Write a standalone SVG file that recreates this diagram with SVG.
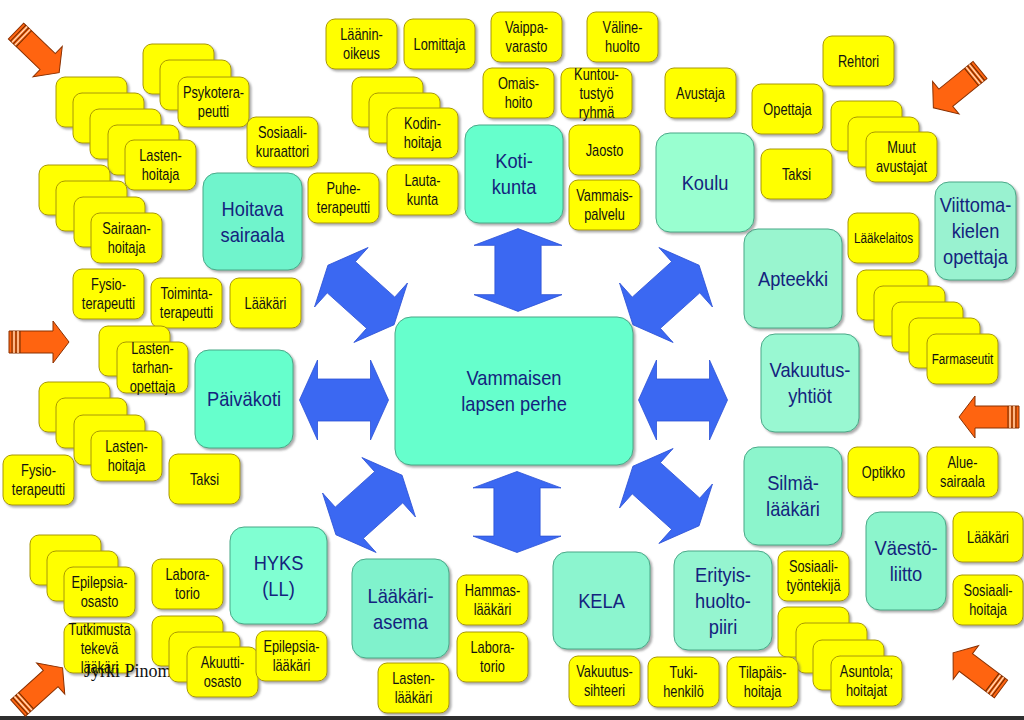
<svg xmlns="http://www.w3.org/2000/svg" xmlns:xlink="http://www.w3.org/1999/xlink" width="1024" height="720" viewBox="0 0 1024 720">
<defs>
<filter id="sh" x="-15%" y="-15%" width="140%" height="140%"><feDropShadow dx="2" dy="2" stdDeviation="1.2" flood-color="#666" flood-opacity="0.55"/></filter>
<polygon id="ba" points="-44.5,0 -26.5,-40 -26.5,-21 26.5,-21 26.5,-40 44.5,0 26.5,40 26.5,21 -26.5,21 -26.5,40"/>
<g id="oa">
<polygon points="0,-11 44,-11 44,-21 60,0 44,21 44,11 0,11" fill="#FF6410" stroke="#8a3000" stroke-width="1"/>
<line x1="3" y1="-11" x2="3" y2="11" stroke="#6a2a00" stroke-width="1"/>
<line x1="5" y1="-11" x2="5" y2="11" stroke="#ffe0c0" stroke-width="1.3"/>
<line x1="7" y1="-11" x2="7" y2="11" stroke="#6a2a00" stroke-width="1"/>
<line x1="9" y1="-11" x2="9" y2="11" stroke="#ffe0c0" stroke-width="1.3"/>
<line x1="11" y1="-11" x2="11" y2="11" stroke="#6a2a00" stroke-width="1"/>
</g>
</defs>
<style>
.y{fill:#FFFF00;stroke:#a89800;stroke-width:1;filter:url(#sh)}
.t{fill:#66FFCC;stroke:#4aa888;stroke-width:1;filter:url(#sh)}
.yt{font-family:"Liberation Sans",Arial,sans-serif;font-size:16px;fill:#111;text-anchor:middle}
.tt{font-family:"Liberation Sans",Arial,sans-serif;font-size:21px;fill:#14237e;text-anchor:middle}
.ba{fill:#3b68f2;stroke:#2c52d6;stroke-width:0.8}
</style>
<rect width="1024" height="720" fill="#fff"/>
<rect x="0" y="716" width="1024" height="4" fill="#2e2e2e"/>

<g id="connectors">
<use xlink:href="#ba" class="ba" transform="translate(518,270) rotate(90) scale(0.93 1.1)"/>
<use xlink:href="#ba" class="ba" transform="translate(517,512) rotate(90) scale(0.91 1.1)"/>
<use xlink:href="#ba" class="ba" transform="translate(344,400)"/>
<use xlink:href="#ba" class="ba" transform="translate(683,400)"/>
<use xlink:href="#ba" class="ba" transform="translate(361,295) rotate(42)"/>
<use xlink:href="#ba" class="ba" transform="translate(666,295) rotate(-42)"/>
<use xlink:href="#ba" class="ba" transform="translate(369,505) rotate(-42)"/>
<use xlink:href="#ba" class="ba" transform="translate(666,496) rotate(42)"/>
</g>

<g id="pointers">
<use xlink:href="#oa" transform="translate(16,31) rotate(44)"/>
<use xlink:href="#oa" transform="translate(9,342)"/>
<use xlink:href="#oa" transform="translate(18,708) rotate(-42)"/>
<use xlink:href="#oa" transform="translate(980,70) rotate(141)"/>
<use xlink:href="#oa" transform="translate(1019,417) rotate(180)"/>
<use xlink:href="#oa" transform="translate(1001,689) rotate(-143)"/>
</g>

<!-- teal nodes -->
<g id="n-perhe"><rect class="t" x="395" y="317" width="238" height="148" rx="16"/>
<text class="tt" transform="translate(514 385.3) scale(0.87 1)"><tspan x="0">Vammaisen</tspan><tspan x="0" dy="26">lapsen perhe</tspan></text></g>
<g id="n-hoitava"><rect class="t" x="203" y="173" width="99" height="97" rx="14" style="fill:#6ff4cc"/>
<text class="tt" transform="translate(252.5 215.8) scale(0.87 1)"><tspan x="0">Hoitava</tspan><tspan x="0" dy="26">sairaala</tspan></text></g>
<g id="n-paivakoti"><rect class="t" x="195" y="350" width="98" height="98" rx="14"/>
<text class="tt" transform="translate(244 406.3) scale(0.87 1)">Päiväkoti</text></g>
<g id="n-hyks"><rect class="t" x="230" y="527" width="97" height="97" rx="14" style="fill:#80ffd2"/>
<text class="tt" transform="translate(278.5 569.8) scale(0.87 1)"><tspan x="0">HYKS</tspan><tspan x="0" dy="26">(LL)</tspan></text></g>
<g id="n-laakariasema"><rect class="t" x="352" y="559" width="97" height="99" rx="14" style="fill:#80f2cc"/>
<text class="tt" transform="translate(400.5 602.8) scale(0.87 1)"><tspan x="0">Lääkäri-</tspan><tspan x="0" dy="26">asema</tspan></text></g>
<g id="n-kela"><rect class="t" x="553" y="552" width="97" height="97" rx="14" style="fill:#8cf5cf"/>
<text class="tt" transform="translate(601.5 607.8) scale(0.87 1)">KELA</text></g>
<g id="n-erityis"><rect class="t" x="674" y="551" width="98" height="99" rx="14" style="fill:#95f5d0"/>
<text class="tt" transform="translate(723 581.8) scale(0.87 1)"><tspan x="0">Erityis-</tspan><tspan x="0" dy="26">huolto-</tspan><tspan x="0" dy="26">piiri</tspan></text></g>
<g id="n-silma"><rect class="t" x="744" y="447" width="98" height="98" rx="14" style="fill:#8cf5cc"/>
<text class="tt" transform="translate(793 490.3) scale(0.87 1)"><tspan x="0">Silmä-</tspan><tspan x="0" dy="26">lääkäri</tspan></text></g>
<g id="n-vaesto"><rect class="t" x="866" y="512" width="80" height="98" rx="14" style="fill:#8cf5cc"/>
<text class="tt" transform="translate(906 555.3) scale(0.87 1)"><tspan x="0">Väestö-</tspan><tspan x="0" dy="26">liitto</tspan></text></g>
<g id="n-vakuutus"><rect class="t" x="761" y="334" width="98" height="98" rx="14" style="fill:#99f8d2"/>
<text class="tt" transform="translate(810 377.3) scale(0.87 1)"><tspan x="0">Vakuutus-</tspan><tspan x="0" dy="26">yhtiöt</tspan></text></g>
<g id="n-apteekki"><rect class="t" x="744" y="229" width="98" height="99" rx="14" style="fill:#99f5cf"/>
<text class="tt" transform="translate(793 285.8) scale(0.87 1)">Apteekki</text></g>
<g id="n-koulu"><rect class="t" x="656" y="133" width="98" height="99" rx="14" style="fill:#99ffd0"/>
<text class="tt" transform="translate(705 189.8) scale(0.87 1)">Koulu</text></g>
<g id="n-viittoma"><rect class="t" x="935" y="182" width="81" height="98" rx="14" style="fill:#99f2d0"/>
<text class="tt" transform="translate(975.5 212.3) scale(0.87 1)"><tspan x="0">Viittoma-</tspan><tspan x="0" dy="26">kielen</tspan><tspan x="0" dy="26">opettaja</tspan></text></g>
<g id="n-kotikunta"><rect class="t" x="465" y="125" width="98" height="98" rx="14"/>
<text class="tt" transform="translate(514 168.3) scale(0.87 1)"><tspan x="0">Koti-</tspan><tspan x="0" dy="26">kunta</tspan></text></g>

<!-- yellow nodes -->
<g id="n-psyk"><rect class="y" x="143" y="44" width="71" height="50" rx="9"/><rect class="y" x="160" y="60" width="71" height="50" rx="9"/><rect class="y" x="178" y="77" width="71" height="50" rx="9"/>
<text class="yt" transform="translate(213.5 98.1) scale(0.8 1)"><tspan x="0">Psykotera-</tspan><tspan x="0" dy="19">peutti</tspan></text></g>
<g id="n-kuraattori"><rect class="y" x="247" y="117" width="71" height="50" rx="9"/>
<text class="yt" transform="translate(282.5 138.1) scale(0.8 1)"><tspan x="0">Sosiaali-</tspan><tspan x="0" dy="19">kuraattori</tspan></text></g>
<g id="n-lastenhoitaja1"><rect class="y" x="56" y="77" width="71" height="50" rx="9"/><rect class="y" x="73" y="93" width="71" height="50" rx="9"/><rect class="y" x="90" y="109" width="71" height="50" rx="9"/><rect class="y" x="108" y="125" width="71" height="50" rx="9"/><rect class="y" x="125" y="140" width="71" height="50" rx="9"/>
<text class="yt" transform="translate(160.5 161.1) scale(0.8 1)"><tspan x="0">Lasten-</tspan><tspan x="0" dy="19">hoitaja</tspan></text></g>
<g id="n-sairaanhoitaja"><rect class="y" x="39" y="165" width="71" height="50" rx="9"/><rect class="y" x="56" y="181" width="71" height="50" rx="9"/><rect class="y" x="74" y="197" width="71" height="50" rx="9"/><rect class="y" x="91" y="213" width="71" height="50" rx="9"/>
<text class="yt" transform="translate(126.5 234.1) scale(0.8 1)"><tspan x="0">Sairaan-</tspan><tspan x="0" dy="19">hoitaja</tspan></text></g>
<g id="n-fysio1"><rect class="y" x="73" y="269" width="71" height="50" rx="9"/>
<text class="yt" transform="translate(108.5 290.1) scale(0.8 1)"><tspan x="0">Fysio-</tspan><tspan x="0" dy="19">terapeutti</tspan></text></g>
<g id="n-toiminta"><rect class="y" x="151" y="278" width="71" height="50" rx="9"/>
<text class="yt" transform="translate(186.5 299.1) scale(0.8 1)"><tspan x="0">Toiminta-</tspan><tspan x="0" dy="19">terapeutti</tspan></text></g>
<g id="n-laakari1"><rect class="y" x="230" y="278" width="71" height="50" rx="9"/>
<text class="yt" transform="translate(265.5 308.6) scale(0.8 1)">Lääkäri</text></g>
<g id="n-lastentarhan"><rect class="y" x="99" y="326" width="71" height="50" rx="9"/><rect class="y" x="117" y="342" width="71" height="51" rx="9"/>
<text class="yt" transform="translate(152.5 353.6) scale(0.8 1)"><tspan x="0">Lasten-</tspan><tspan x="0" dy="19">tarhan-</tspan><tspan x="0" dy="19">opettaja</tspan></text></g>
<g id="n-lastenhoitaja2"><rect class="y" x="39" y="382" width="71" height="50" rx="9"/><rect class="y" x="56" y="398" width="71" height="50" rx="9"/><rect class="y" x="74" y="415" width="71" height="50" rx="9"/><rect class="y" x="91" y="431" width="71" height="50" rx="9"/>
<text class="yt" transform="translate(126.5 452.1) scale(0.8 1)"><tspan x="0">Lasten-</tspan><tspan x="0" dy="19">hoitaja</tspan></text></g>
<g id="n-fysio2"><rect class="y" x="3" y="455" width="71" height="50" rx="9"/>
<text class="yt" transform="translate(38.5 476.1) scale(0.8 1)"><tspan x="0">Fysio-</tspan><tspan x="0" dy="19">terapeutti</tspan></text></g>
<g id="n-taksi1"><rect class="y" x="169" y="454" width="71" height="50" rx="9"/>
<text class="yt" transform="translate(204.5 484.6) scale(0.8 1)">Taksi</text></g>
<g id="n-epilepsiaosasto"><rect class="y" x="30" y="535" width="71" height="50" rx="9"/><rect class="y" x="47" y="551" width="71" height="50" rx="9"/><rect class="y" x="64" y="567" width="71" height="50" rx="9"/>
<text class="yt" transform="translate(99.5 588.1) scale(0.8 1)"><tspan x="0">Epilepsia-</tspan><tspan x="0" dy="19">osasto</tspan></text></g>
<g id="n-tutkimusta"><rect class="y" x="64" y="623" width="71" height="50" rx="9"/>
<text class="yt" transform="translate(99.5 634.6) scale(0.8 1)"><tspan x="0">Tutkimusta</tspan><tspan x="0" dy="19">tekevä</tspan><tspan x="0" dy="19">lääkäri</tspan></text></g>
<g id="n-labora1"><rect class="y" x="152" y="559" width="71" height="50" rx="9"/>
<text class="yt" transform="translate(187.5 580.1) scale(0.8 1)"><tspan x="0">Labora-</tspan><tspan x="0" dy="19">torio</tspan></text></g>
<g id="n-akuutti"><rect class="y" x="152" y="616" width="71" height="50" rx="9"/>
<text x="84" y="677" font-family="'Liberation Serif','Times New Roman',serif" font-size="18" fill="#111">Jyrki Pinomaa</text>
<rect class="y" x="169" y="632" width="71" height="50" rx="9"/><rect class="y" x="187" y="647" width="71" height="50" rx="9"/>
<text class="yt" transform="translate(222.5 668.1) scale(0.8 1)"><tspan x="0">Akuutti-</tspan><tspan x="0" dy="19">osasto</tspan></text></g>
<g id="n-epilepsialaakari"><rect class="y" x="256" y="631" width="71" height="50" rx="9"/>
<text class="yt" transform="translate(291.5 652.1) scale(0.8 1)"><tspan x="0">Epilepsia-</tspan><tspan x="0" dy="19">lääkäri</tspan></text></g>
<g id="n-laanin"><rect class="y" x="326" y="19" width="71" height="50" rx="9"/>
<text class="yt" transform="translate(361.5 40.1) scale(0.8 1)"><tspan x="0">Läänin-</tspan><tspan x="0" dy="19">oikeus</tspan></text></g>
<g id="n-lomittaja"><rect class="y" x="404" y="19" width="71" height="50" rx="9"/>
<text class="yt" transform="translate(439.5 49.6) scale(0.8 1)">Lomittaja</text></g>
<g id="n-vaippa"><rect class="y" x="491" y="12" width="71" height="50" rx="9"/>
<text class="yt" transform="translate(526.5 33.1) scale(0.8 1)"><tspan x="0">Vaippa-</tspan><tspan x="0" dy="19">varasto</tspan></text></g>
<g id="n-valine"><rect class="y" x="587" y="12" width="71" height="50" rx="9"/>
<text class="yt" transform="translate(622.5 33.1) scale(0.8 1)"><tspan x="0">Väline-</tspan><tspan x="0" dy="19">huolto</tspan></text></g>
<g id="n-omais"><rect class="y" x="483" y="68" width="71" height="50" rx="9"/>
<text class="yt" transform="translate(518.5 89.1) scale(0.8 1)"><tspan x="0">Omais-</tspan><tspan x="0" dy="19">hoito</tspan></text></g>
<g id="n-kuntou"><rect class="y" x="561" y="68" width="71" height="50" rx="9"/>
<text class="yt" transform="translate(596.5 79.6) scale(0.8 1)"><tspan x="0">Kuntou-</tspan><tspan x="0" dy="19">tustyö</tspan><tspan x="0" dy="19">ryhmä</tspan></text></g>
<g id="n-avustaja"><rect class="y" x="665" y="68" width="71" height="50" rx="9"/>
<text class="yt" transform="translate(700.5 98.6) scale(0.8 1)">Avustaja</text></g>
<g id="n-kodin"><rect class="y" x="352" y="77" width="71" height="50" rx="9"/><rect class="y" x="369" y="93" width="71" height="50" rx="9"/><rect class="y" x="387" y="108" width="71" height="50" rx="9"/>
<text class="yt" transform="translate(422.5 129.1) scale(0.8 1)"><tspan x="0">Kodin-</tspan><tspan x="0" dy="19">hoitaja</tspan></text></g>
<g id="n-lauta"><rect class="y" x="387" y="165" width="71" height="50" rx="9"/>
<text class="yt" transform="translate(422.5 186.1) scale(0.8 1)"><tspan x="0">Lauta-</tspan><tspan x="0" dy="19">kunta</tspan></text></g>
<g id="n-puhe"><rect class="y" x="308" y="173" width="71" height="50" rx="9"/>
<text class="yt" transform="translate(343.5 194.1) scale(0.8 1)"><tspan x="0">Puhe-</tspan><tspan x="0" dy="19">terapeutti</tspan></text></g>
<g id="n-jaosto"><rect class="y" x="569" y="125" width="71" height="50" rx="9"/>
<text class="yt" transform="translate(604.5 155.6) scale(0.8 1)">Jaosto</text></g>
<g id="n-vammaispalvelu"><rect class="y" x="569" y="180" width="71" height="50" rx="9"/>
<text class="yt" transform="translate(604.5 201.1) scale(0.8 1)"><tspan x="0">Vammais-</tspan><tspan x="0" dy="19">palvelu</tspan></text></g>
<g id="n-rehtori"><rect class="y" x="823" y="36" width="71" height="50" rx="9"/>
<text class="yt" transform="translate(858.5 66.6) scale(0.8 1)">Rehtori</text></g>
<g id="n-opettaja"><rect class="y" x="752" y="84" width="71" height="50" rx="9"/>
<text class="yt" transform="translate(787.5 114.6) scale(0.8 1)">Opettaja</text></g>
<g id="n-taksi2"><rect class="y" x="761" y="149" width="71" height="50" rx="9"/>
<text class="yt" transform="translate(796.5 179.6) scale(0.8 1)">Taksi</text></g>
<g id="n-muut"><rect class="y" x="831" y="101" width="71" height="50" rx="9"/><rect class="y" x="848" y="117" width="71" height="50" rx="9"/><rect class="y" x="866" y="132" width="71" height="50" rx="9"/>
<text class="yt" transform="translate(901.5 153.1) scale(0.8 1)"><tspan x="0">Muut</tspan><tspan x="0" dy="19">avustajat</tspan></text></g>
<g id="n-laakelaitos"><rect class="y" x="848" y="213" width="71" height="50" rx="9"/>
<text class="yt" transform="translate(883.5 243) scale(0.78 1)" style="font-size:15px">Lääkelaitos</text></g>
<g id="n-farmaseutit"><rect class="y" x="857" y="270" width="71" height="50" rx="9"/><rect class="y" x="874" y="286" width="71" height="50" rx="9"/><rect class="y" x="892" y="302" width="71" height="50" rx="9"/><rect class="y" x="909" y="318" width="71" height="50" rx="9"/><rect class="y" x="927" y="334" width="71" height="50" rx="9"/>
<text class="yt" transform="translate(962.5 364) scale(0.78 1)" style="font-size:15px">Farmaseutit</text></g>
<g id="n-optikko"><rect class="y" x="848" y="447" width="71" height="50" rx="9"/>
<text class="yt" transform="translate(883.5 477.6) scale(0.8 1)">Optikko</text></g>
<g id="n-aluesairaala"><rect class="y" x="927" y="447" width="71" height="50" rx="9"/>
<text class="yt" transform="translate(962.5 468.1) scale(0.8 1)"><tspan x="0">Alue-</tspan><tspan x="0" dy="19">sairaala</tspan></text></g>
<g id="n-laakari2"><rect class="y" x="953" y="512" width="70" height="50" rx="9"/>
<text class="yt" transform="translate(988 542.6) scale(0.8 1)">Lääkäri</text></g>
<g id="n-sosiaalihoitaja"><rect class="y" x="953" y="575" width="70" height="50" rx="9"/>
<text class="yt" transform="translate(988 596.1) scale(0.8 1)"><tspan x="0">Sosiaali-</tspan><tspan x="0" dy="19">hoitaja</tspan></text></g>
<g id="n-sosiaalityontekija"><rect class="y" x="778" y="551" width="71" height="50" rx="9"/>
<text class="yt" transform="translate(813.5 572.1) scale(0.8 1)"><tspan x="0">Sosiaali-</tspan><tspan x="0" dy="19">työntekijä</tspan></text></g>
<g id="n-asuntola"><rect class="y" x="778" y="607" width="71" height="50" rx="9"/><rect class="y" x="796" y="623" width="71" height="50" rx="9"/><rect class="y" x="813" y="640" width="71" height="50" rx="9"/><rect class="y" x="831" y="656" width="71" height="50" rx="9"/>
<text class="yt" transform="translate(866.5 677.1) scale(0.8 1)"><tspan x="0">Asuntola;</tspan><tspan x="0" dy="19">hoitajat</tspan></text></g>
<g id="n-tukihenkilo"><rect class="y" x="648" y="657" width="71" height="50" rx="9"/>
<text class="yt" transform="translate(683.5 678.1) scale(0.8 1)"><tspan x="0">Tuki-</tspan><tspan x="0" dy="19">henkilö</tspan></text></g>
<g id="n-tilapais"><rect class="y" x="727" y="657" width="71" height="50" rx="9"/>
<text class="yt" transform="translate(762.5 678.1) scale(0.8 1)"><tspan x="0">Tilapäis-</tspan><tspan x="0" dy="19">hoitaja</tspan></text></g>
<g id="n-vakuutussihteeri"><rect class="y" x="569" y="656" width="71" height="50" rx="9"/>
<text class="yt" transform="translate(604.5 677.1) scale(0.8 1)"><tspan x="0">Vakuutus-</tspan><tspan x="0" dy="19">sihteeri</tspan></text></g>
<g id="n-hammas"><rect class="y" x="457" y="575" width="71" height="50" rx="9"/>
<text class="yt" transform="translate(492.5 596.1) scale(0.8 1)"><tspan x="0">Hammas-</tspan><tspan x="0" dy="19">lääkäri</tspan></text></g>
<g id="n-labora2"><rect class="y" x="457" y="632" width="71" height="50" rx="9"/>
<text class="yt" transform="translate(492.5 653.1) scale(0.8 1)"><tspan x="0">Labora-</tspan><tspan x="0" dy="19">torio</tspan></text></g>
<g id="n-lastenlaakari"><rect class="y" x="378" y="663" width="71" height="50" rx="9"/>
<text class="yt" transform="translate(413.5 684.1) scale(0.8 1)"><tspan x="0">Lasten-</tspan><tspan x="0" dy="19">lääkäri</tspan></text></g>
</svg>
